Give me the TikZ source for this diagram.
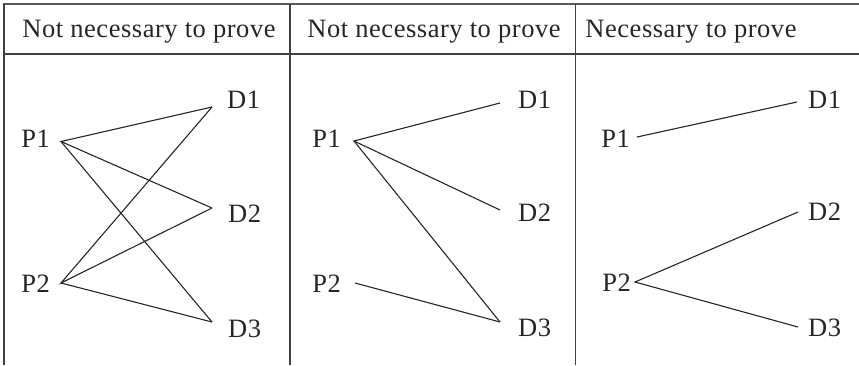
\documentclass[tikz,border=0pt]{standalone}
\usepackage{fontspec}
\setmainfont{Liberation Serif}[LetterSpace=2]
\begin{document}
\begin{tikzpicture}[x=1pt,y=-1pt,
  lbl/.style={inner sep=0pt,font=\fontsize{26.5}{31}\selectfont,text=black!85},
  hdr/.style={inner sep=0pt,anchor=base,font=\fontsize{26.5}{31}\selectfont,text=black!85},
  edge/.style={line width=1.1pt,black!85},
  rule/.style={line width=1.1pt,black!75}]
\useasboundingbox (0,0) rectangle (859,365);
% table rules
\draw[line width=2.2pt,black!65] (3,4) -- (859,4);
\draw[rule] (4,54) -- (859,54);
\draw[rule] (4,4) -- (4,365);
\draw[rule] (290,4) -- (290,365);
\draw[rule] (575.5,4) -- (575.5,365);
% headers
\node[hdr] (h1) at (149,37.7) {Not necessary to prove};
\node[hdr] (h2) at (434,37.7) {Not necessary to prove};
\node[hdr] (h3) at (691,37.7) {Necessary to prove};
% panel 1
\node[lbl,anchor=base east] (aP1) at (50,147) {P1};
\node[lbl,anchor=base east] (aP2) at (50,292) {P2};
\node[lbl,anchor=base west] (aD1) at (227,108) {D1};
\node[lbl,anchor=base west] (aD2) at (228,222) {D2};
\node[lbl,anchor=base west] (aD3) at (228,337) {D3};
\coordinate (ap1) at (61,141.5);
\coordinate (ap2) at (61,283);
\coordinate (ad1) at (212,107);
\coordinate (ad2) at (212,208);
\coordinate (ad3) at (212,322);
\draw[edge] (ad1) -- (ap1) -- (ad2);
\draw[edge] (ap1) -- (ad3);
\draw[edge] (ad1) -- (ap2) -- (ad2);
\draw[edge] (ap2) -- (ad3);
% panel 2
\node[lbl,anchor=base east] (bP1) at (341,147) {P1};
\node[lbl,anchor=base east] (bP2) at (341,292) {P2};
\node[lbl,anchor=base west] (bD1) at (518,108) {D1};
\node[lbl,anchor=base west] (bD2) at (518,221) {D2};
\node[lbl,anchor=base west] (bD3) at (518,336) {D3};
\coordinate (bp1) at (354,141);
\coordinate (bp2) at (355,283);
\coordinate (bd1) at (500,103);
\coordinate (bd2) at (500,210);
\coordinate (bd3) at (500,322);
\draw[edge] (bd1) -- (bp1) -- (bd2);
\draw[edge] (bp1) -- (bd3);
\draw[edge] (bp2) -- (bd3);
% panel 3
\node[lbl,anchor=base east] (cP1) at (630,147) {P1};
\node[lbl,anchor=base east] (cP2) at (631,291) {P2};
\node[lbl,anchor=base west] (cD1) at (808,108) {D1};
\node[lbl,anchor=base west] (cD2) at (808,220) {D2};
\node[lbl,anchor=base west] (cD3) at (808,336) {D3};
\coordinate (cp1) at (637,137);
\coordinate (cp2) at (635,282);
\coordinate (cd1) at (797,102);
\coordinate (cd2) at (798,212);
\coordinate (cd3) at (798,327);
\draw[edge] (cp1) -- (cd1);
\draw[edge] (cd2) -- (cp2) -- (cd3);
\end{tikzpicture}
\end{document}
